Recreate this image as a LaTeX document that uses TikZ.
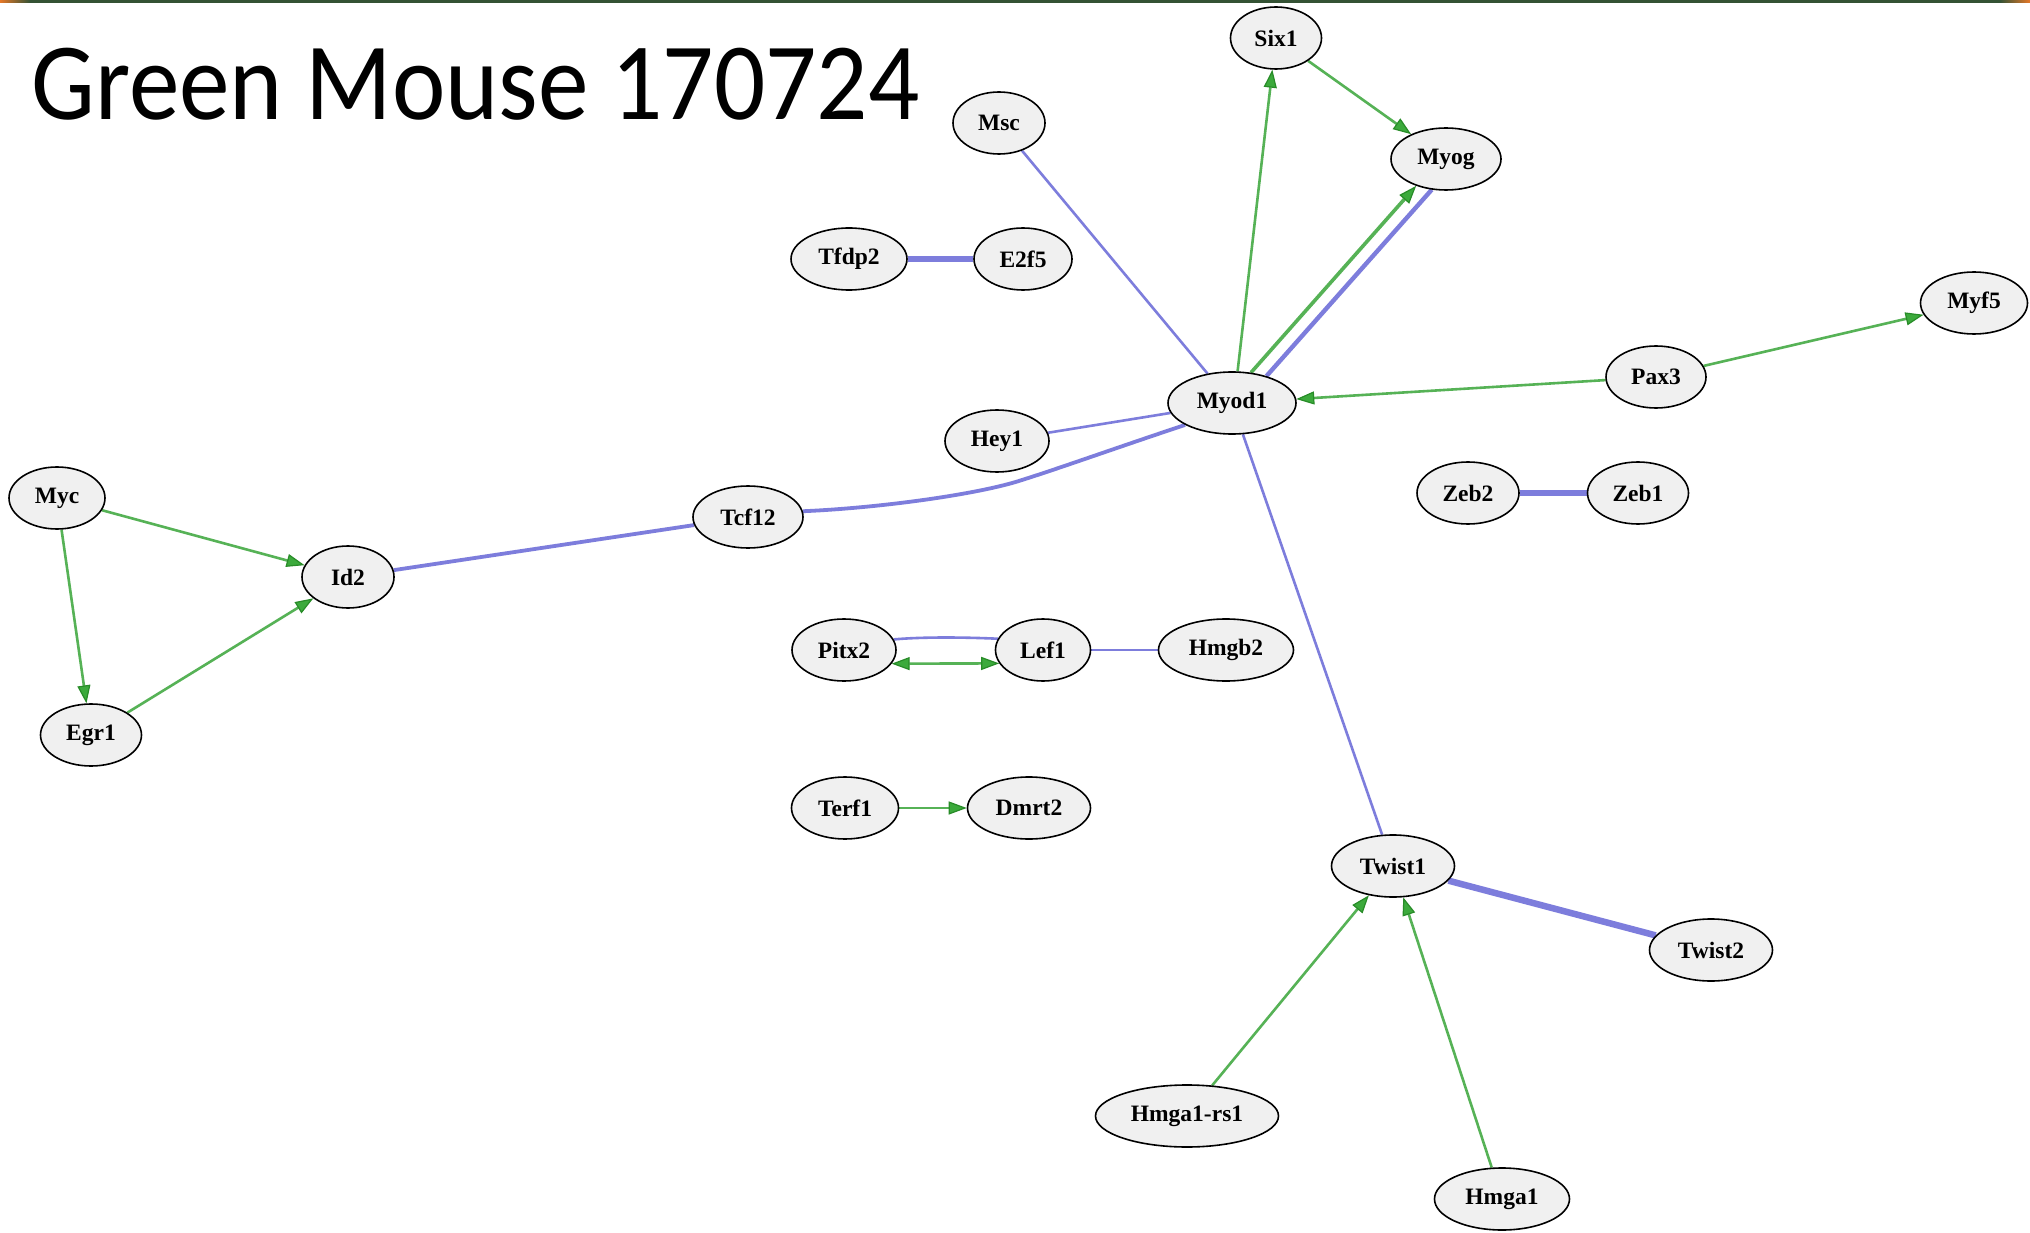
\documentclass[tikz,border=0pt]{standalone}
\usepackage{fontspec}
\setmainfont{Liberation Serif}
\newfontfamily\titlefont{Carlito}
\usetikzlibrary{arrows.meta,shapes.geometric,backgrounds}
\definecolor{gline}{RGB}{86,178,86}
\definecolor{gfill}{RGB}{60,170,60}
\definecolor{gdark}{RGB}{40,140,40}
\definecolor{bline}{RGB}{125,125,220}
\definecolor{nfill}{RGB}{240,240,240}
\definecolor{barg}{RGB}{52,82,52}
\definecolor{baro}{RGB}{230,120,40}
\tikzset{
  gene/.style={ellipse, draw=black, line width=1.6pt, fill=nfill, inner sep=0pt,
    minimum height=62pt, font=\fontsize{23.5}{23.5}\selectfont\bfseries},
  act/.style={draw=gline, line width=2.6pt,
    -{Triangle[length=18pt,width=13pt,color=gdark,fill=gfill,line width=1.2pt]}},
  actb/.style={draw=gline, line width=2.6pt,
    {Triangle[length=18pt,width=13pt,color=gdark,fill=gfill,line width=1.2pt]}-{Triangle[length=18pt,width=13pt,color=gdark,fill=gfill,line width=1.2pt]}},
  bnd/.style={draw=bline, line width=2.6pt},
  bndm/.style={draw=bline, line width=3.8pt},
  bndt/.style={draw=bline, line width=6.5pt}
}
\begin{document}
\begin{tikzpicture}[x=1pt,y=-1pt]
\useasboundingbox (0,0) rectangle (2030,1233);
% title
\node[anchor=base west, inner sep=0pt, font=\titlefont\fontsize{110}{110}\selectfont, xscale=0.92, transform shape] (title) at (31,120) {Green Mouse 170724};
% nodes
\node[gene, minimum width=91pt]  (six1)  at (1276,38)  {Six1};
\node[gene, minimum width=92pt]  (msc)   at (999,123)  {Msc};
\node[gene, minimum width=110pt] (myog)  at (1446,159) {Myog};
\node[gene, minimum width=116pt] (tfdp2) at (849,259)  {Tfdp2};
\node[gene, minimum width=98pt]  (e2f5)  at (1023,259) {E2f5};
\node[gene, minimum width=107pt] (myf5)  at (1974,303) {Myf5};
\node[gene, minimum width=100pt] (pax3)  at (1656,377) {Pax3};
\node[gene, minimum width=128pt] (myod1) at (1232,403) {Myod1};
\node[gene, minimum width=104pt] (hey1)  at (997,441)  {Hey1};
\node[gene, minimum width=102pt] (zeb2)  at (1468,493) {Zeb2};
\node[gene, minimum width=101pt] (zeb1)  at (1638,493) {Zeb1};
\node[gene, minimum width=96pt]  (myc)   at (57,498)   {Myc};
\node[gene, minimum width=110pt] (tcf12) at (748,517)  {Tcf12};
\node[gene, minimum width=92pt]  (id2)   at (348,577)  {Id2};
\node[gene, minimum width=104pt] (pitx2) at (844,650)  {Pitx2};
\node[gene, minimum width=95pt]  (lef1)  at (1043,650) {Lef1};
\node[gene, minimum width=135pt] (hmgb2) at (1226,650) {Hmgb2};
\node[gene, minimum width=101pt] (egr1)  at (91,735)   {Egr1};
\node[gene, minimum width=107pt] (terf1) at (845,808)  {Terf1};
\node[gene, minimum width=123pt] (dmrt2) at (1029,808) {Dmrt2};
\node[gene, minimum width=123pt] (twist1) at (1393,866) {Twist1};
\node[gene, minimum width=123pt] (twist2) at (1711,950) {Twist2};
\node[gene, minimum width=183pt] (hmgars) at (1187,1116) {Hmga1-rs1};
\node[gene, minimum width=135pt] (hmga1) at (1502,1199) {Hmga1};
% edges
\begin{scope}[on background layer]
\fill[white] (0,0) rectangle (2030,1233);
\fill[barg] (30,0) rectangle (2000,3);
\shade[left color=baro, right color=barg] (0,0) rectangle (30,3);
\shade[left color=barg, right color=baro] (2000,0) rectangle (2030,3);
\draw[act] (myod1.80) -- (six1);
\draw[act] (six1) -- (myog);
\draw[act, line width=3.6pt] (myod1.58) -- (myog.222);
\draw[bndm, line width=4.4pt] (myod1.38) -- (myog.245);
\draw[bnd] (msc) -- (myod1);
\draw[bndt] (tfdp2) -- (e2f5);
\draw[act] (pax3) -- (myod1);
\draw[act] (pax3) -- (myf5);
\draw[bnd] (hey1) -- (myod1);
\draw[bndm] (myod1.205) .. controls (1110,450) and (1060,468) .. (1022,480)
  .. controls (980,494) and (880,508) .. (tcf12.6);
\draw[bndm] (tcf12) -- (id2);
\draw[act] (myc) -- (id2);
\draw[act] (myc) -- (egr1);
\draw[act] (egr1) -- (id2);
\draw[bndt] (zeb2) -- (zeb1);
\draw[bnd] (pitx2.12) .. controls (920,637) and (960,637) .. (lef1.166);
\draw[actb] (pitx2.-16) -- (lef1.197);
\draw[bnd] (lef1) -- (hmgb2);
\draw[act] (terf1) -- (dmrt2);
\draw[bnd] (myod1) -- (twist1);
\draw[bndt] (twist1) -- (twist2);
\draw[act] (hmgars) -- (twist1);
\draw[act] (hmga1) -- (twist1);
\end{scope}
\end{tikzpicture}
\end{document}
